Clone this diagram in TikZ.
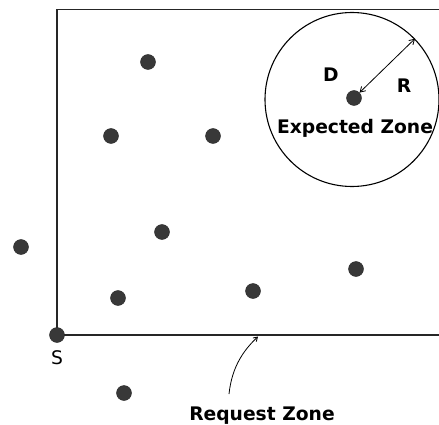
\documentclass[tikz,border=0pt]{standalone}
\usepackage{fontspec}
\setmainfont{DejaVu Sans}
\usetikzlibrary{arrows.meta}
\begin{document}
\begin{tikzpicture}[x=1pt,y=-1pt,
  dotnode/.style={circle,fill=black!78,draw=black!85,line width=0.4pt,minimum size=15pt,inner sep=0pt},
  frameline/.style={line width=1.2pt,draw=black!85},
  lbl/.style={font=\fontsize{18.7}{20}\selectfont\bfseries,inner sep=0pt,anchor=base},
  zone/.style={circle,draw=black,line width=1.1pt,minimum size=174pt,inner sep=0pt},
  dimarrow/.style={line width=0.8pt,{Straight Barb[length=5pt,width=6pt]}-{Straight Barb[length=5pt,width=6pt]}},
  ptrarrow/.style={line width=0.8pt,-{Straight Barb[length=4pt,width=5pt]}}]
\useasboundingbox (0,0) rectangle (439,425);
% frame
\coordinate (tl) at (57,9.5);
\coordinate (tr) at (439,9.5);
\coordinate (bl) at (57,335);
\coordinate (br) at (439,335);
\draw[frameline] (tr) -- (tl) -- (bl) -- (br);
% expected zone
\node[zone] (ez) at (352,99.5) {};
% dots
\node[dotnode] (d1) at (148,62) {};
\node[dotnode] (d2) at (111,136) {};
\node[dotnode] (d3) at (213,136) {};
\node[dotnode] (d4) at (162,232) {};
\node[dotnode] (d5) at (21,247) {};
\node[dotnode] (d6) at (118,298) {};
\node[dotnode] (d7) at (253,291) {};
\node[dotnode] (d8) at (356,269) {};
\node[dotnode] (s) at (57,335) {};
\node[dotnode] (d9) at (124,393) {};
\node[dotnode] (cd) at (354,98) {};
% labels
\node[lbl] (lD) at (331,82) {D};
\node[lbl] (lR) at (404,93) {R};
\node[lbl] (lez) at (355,134) {Expected Zone};
\node[lbl,font=\fontsize{18.7}{20}\selectfont] (lS) at (57,364) {S};
\node[lbl] (lrz) at (262,420) {Request Zone};
% radius arrow
\draw[dimarrow] (cd) -- (ez.44);
% request zone pointer
\coordinate (rzs) at (229,394);
\coordinate (rzt) at (258,336.5);
\draw[ptrarrow] (rzs) .. controls (232,366) and (244,350) .. (rzt);
\end{tikzpicture}
\end{document}
